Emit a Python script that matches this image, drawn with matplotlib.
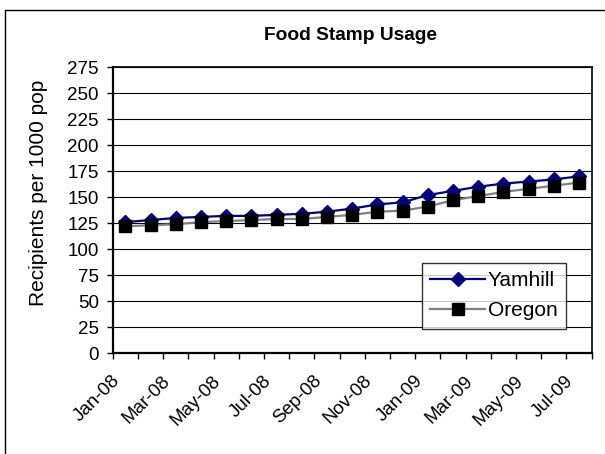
import matplotlib
matplotlib.use('Agg')
import matplotlib.pyplot as plt
from matplotlib.patches import Rectangle
from matplotlib.transforms import ScaledTranslation

# monthly data, Jan-08 .. Jul-09
months = ['Jan-08', 'Feb-08', 'Mar-08', 'Apr-08', 'May-08', 'Jun-08', 'Jul-08',
          'Aug-08', 'Sep-08', 'Oct-08', 'Nov-08', 'Dec-08', 'Jan-09', 'Feb-09',
          'Mar-09', 'Apr-09', 'May-09', 'Jun-09', 'Jul-09']
yamhill = [126, 128, 130, 131, 132, 132, 133, 134, 136, 139, 143, 145,
           152, 156, 160, 163, 165, 167, 170]
oregon = [122, 123, 124, 126, 127, 128, 129, 129, 131, 133, 136, 137,
          141, 147, 151, 155, 158, 161, 164]
y_ticks = list(range(0, 276, 25))

plt.rcParams['font.family'] = ['Liberation Sans', 'DejaVu Sans']

W, H = 605, 454
fig = plt.figure(figsize=(W / 100, H / 100), dpi=100)
left, right, top, bottom = 112.7, 591.7, 67, 353.3
ax = fig.add_axes([left / W, 1 - bottom / H, (right - left) / W, (bottom - top) / H])

x = list(range(len(months)))
ax.plot(x, yamhill, color='#000080', lw=1.6, marker='D', markersize=7.5,
        markerfacecolor='#000080', markeredgecolor='#000080', label='Yamhill')
ax.plot(x, oregon, color='#808080', lw=1.6, marker='s', markersize=9,
        markerfacecolor='black', markeredgecolor='black', label='Oregon')

ax.set_xlim(-0.5, len(months) - 0.5)
ax.set_ylim(0, 275)
ax.set_yticks(y_ticks)
ax.set_yticklabels([str(v) for v in y_ticks], fontsize=13.5)
ax.yaxis.grid(True, color='black', lw=0.8)
ax.set_axisbelow(True)

# category ticks sit between months, labels every other month
ax.set_xticks([i - 0.5 for i in range(len(months) + 1)])
ax.set_xticklabels([])
ax.set_xticks(x[::2], minor=True)
ax.set_xticklabels(months[::2], minor=True, rotation=45, ha='right',
                   va='center', rotation_mode='anchor', fontsize=13.5)
ax.tick_params(axis='x', which='minor', length=0, pad=18)
ax.tick_params(axis='x', which='major', direction='out', length=4,
               width=1, color='black')
ax.tick_params(axis='y', which='major', direction='out', length=4,
               width=1, color='black', pad=6)
shift = ScaledTranslation(-8 / 100, 0, fig.dpi_scale_trans)
for lbl in ax.get_xticklabels(minor=True):
    lbl.set_transform(lbl.get_transform() + shift)

for side in ['left', 'bottom']:
    ax.spines[side].set_linewidth(1.6)
for side in ['top', 'right']:
    ax.spines[side].set_linewidth(1.2)

ax.set_ylabel('Recipients per 1000 pop', fontsize=15, labelpad=10)
ax.yaxis.set_label_coords(-0.135, 0.56)
fig.text(350 / W, 1 - 36 / H, 'Food Stamp Usage', ha='center',
         va='center', fontsize=13.8, fontweight='bold')

leg = ax.legend(loc='lower right', bbox_to_anchor=(0.946, 0.086),
                fontsize=15, frameon=True, fancybox=False, borderpad=0.4,
                handlelength=2.6, labelspacing=0.55, handletextpad=0.15,
                borderaxespad=0)
leg.get_frame().set_edgecolor('black')
leg.get_frame().set_linewidth(1)

fig.patches.append(Rectangle((5 / W, -0.1), 1.0, 1 - 10 / H + 0.1,
                             transform=fig.transFigure, fill=False,
                             edgecolor='black', lw=1))

fig.savefig('out.png', dpi=100)
